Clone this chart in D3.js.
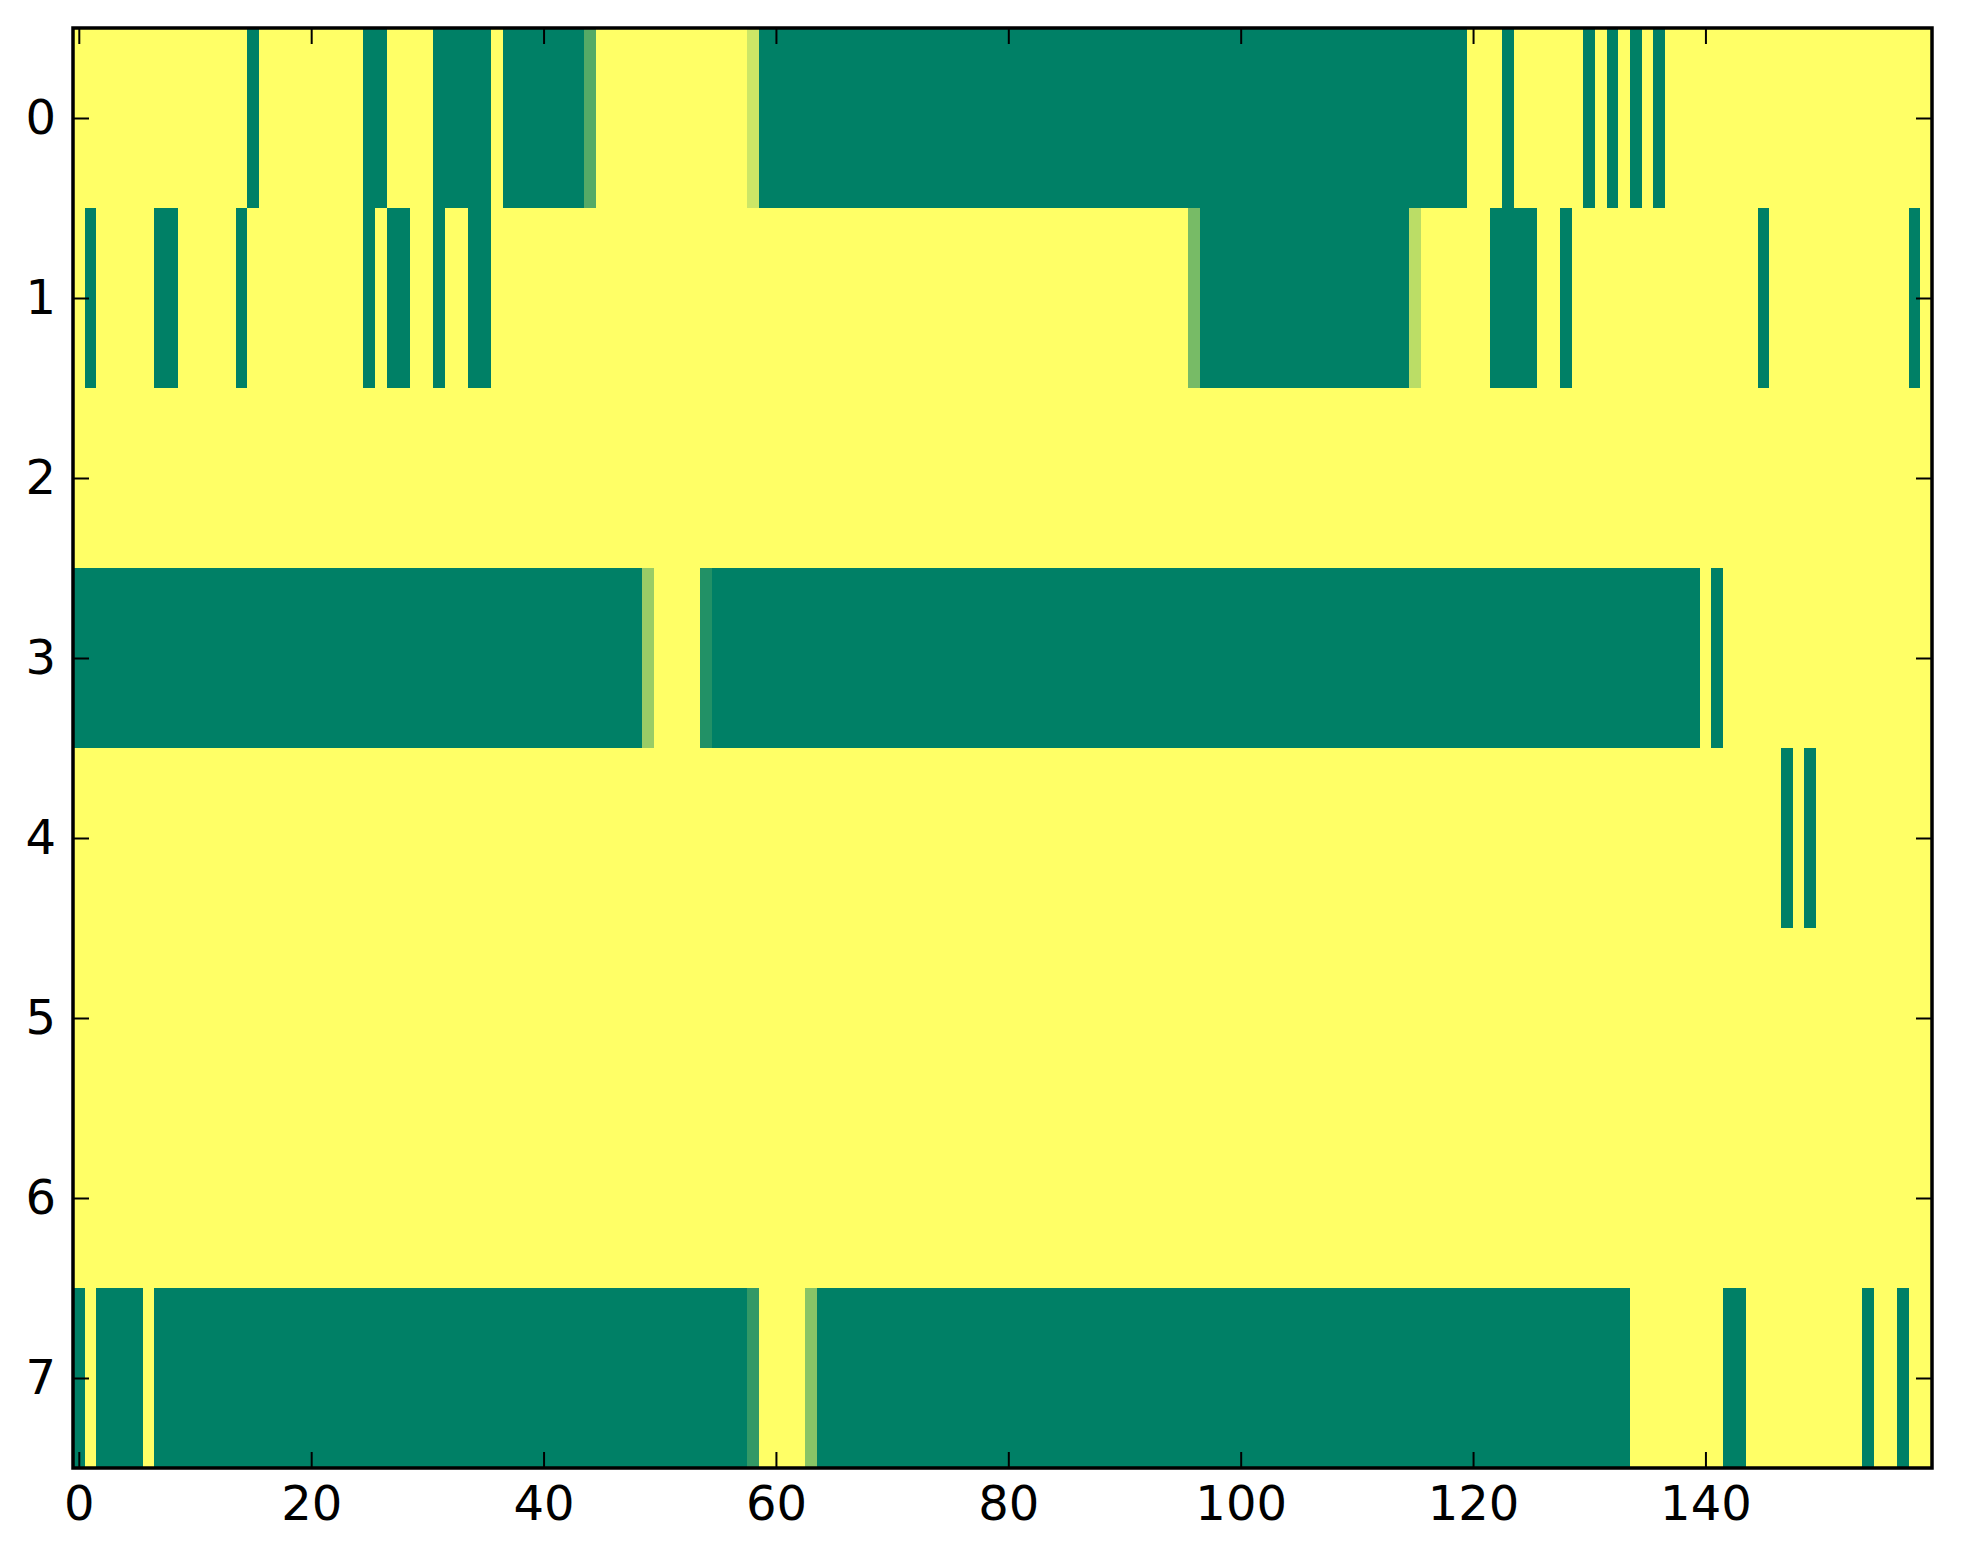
<!DOCTYPE html>
<html>
<head>
<meta charset="utf-8">
<script src="https://cdn.jsdelivr.net/npm/d3@7"></script>
<style>
  body { margin: 0; background: #fff; }
  text { font-family: "DejaVu Sans", sans-serif; }
</style>
</head>
<body>
<svg id="chart" width="1963" height="1564"></svg>
<script>
// one string per row, one hex digit per column: 0 = lowest (green), f = highest (yellow)
// spaces every 10 columns only for reading
var row0 = "ffffffffff fffff0ffff fffff00fff f00000f000 00005fffff ffffffffc0 0000000000 0000000000 0000000000 0000000000 0000000000 0000000000 fff0ffffff 0f0f0f0fff ffffffffff ffffffffff";
var row1 = "f0fffff00f ffff0fffff fffff0f00f f0ff00ffff ffffffffff ffffffffff ffffffffff ffffffffff ffffffffff ffffff7000 0000000000 00000bffff ff0000ff0f ffffffffff fffff0ffff ffffffff0f";
var row2 = "ffffffffff ffffffffff ffffffffff ffffffffff ffffffffff ffffffffff ffffffffff ffffffffff ffffffffff ffffffffff ffffffffff ffffffffff ffffffffff ffffffffff ffffffffff ffffffffff";
var row3 = "0000000000 0000000000 0000000000 0000000000 0000000009 ffff200000 0000000000 0000000000 0000000000 0000000000 0000000000 0000000000 0000000000 0000000000 f0ffffffff ffffffffff";
var row4 = "ffffffffff ffffffffff ffffffffff ffffffffff ffffffffff ffffffffff ffffffffff ffffffffff ffffffffff ffffffffff ffffffffff ffffffffff ffffffffff ffffffffff fffffff0f0 ffffffffff";
var row5 = "ffffffffff ffffffffff ffffffffff ffffffffff ffffffffff ffffffffff ffffffffff ffffffffff ffffffffff ffffffffff ffffffffff ffffffffff ffffffffff ffffffffff ffffffffff ffffffffff";
var row6 = "ffffffffff ffffffffff ffffffffff ffffffffff ffffffffff ffffffffff ffffffffff ffffffffff ffffffffff ffffffffff ffffffffff ffffffffff ffffffffff ffffffffff ffffffffff ffffffffff";
var row7 = "0f0000f000 0000000000 0000000000 0000000000 0000000000 000000003f fff8000000 0000000000 0000000000 0000000000 0000000000 0000000000 0000000000 0000ffffff ff00ffffff ffff0ff0ff";

var xTicks = [0, 20, 40, 60, 80, 100, 120, 140];
var yTicks = [0, 1, 2, 3, 4, 5, 6, 7];

var rowStrings = [row0, row1, row2, row3, row4, row5, row6, row7];

var grid = rowStrings.map(function (s) {
    return s.replace(/ /g, "").split("").map(function (ch) { return parseInt(ch, 16) / 15; });
});
var nCols = grid[0].length;
var nRows = grid.length;
console.log("cols", grid.map(function (r) { return r.length; }));

var cells = [];
grid.forEach(function (r, i) {
    r.forEach(function (v, j) { cells.push({ row: i, col: j, value: v }); });
});

// plot box (window.top is read-only, so no "top" here)
var plotLeft = 73, plotRight = 1932, plotTop = 28, plotBottom = 1468;

var svg = d3.select("#chart");

var x = d3.scaleLinear().domain([-0.5, nCols - 0.5]).range([plotLeft, plotRight]);
var y = d3.scaleLinear().domain([-0.5, nRows - 0.5]).range([plotTop, plotBottom]);

// matplotlib "summer"
var color = d3.scaleLinear().domain([0, 1]).range(["#008066", "#ffff66"]);

svg.append("rect")
    .attr("width", 1963).attr("height", 1564).attr("fill", "#fff");

svg.append("g")
    .selectAll("rect")
    .data(cells)
    .join("rect")
    .attr("x", function (d) { return x(d.col - 0.5); })
    .attr("y", function (d) { return y(d.row - 0.5); })
    .attr("width", function (d) { return x(d.col + 0.5) - x(d.col - 0.5); })
    .attr("height", function (d) { return y(d.row + 0.5) - y(d.row - 0.5); })
    .attr("fill", function (d) { return color(d.value); })
    .attr("shape-rendering", "crispEdges");

var fmt = d3.format("d");

var gBottom = svg.append("g")
    .attr("transform", "translate(0," + plotBottom + ")")
    .call(d3.axisBottom(x).tickValues(xTicks).tickFormat(fmt)
        .tickSizeInner(-16).tickSizeOuter(0).tickPadding(18));
var gTop = svg.append("g")
    .attr("transform", "translate(0," + plotTop + ")")
    .call(d3.axisTop(x).tickValues(xTicks).tickFormat("")
        .tickSizeInner(-16).tickSizeOuter(0));
var gLeft = svg.append("g")
    .attr("transform", "translate(" + plotLeft + ",0)")
    .call(d3.axisLeft(y).tickValues(yTicks).tickFormat(fmt)
        .tickSizeInner(-16).tickSizeOuter(0).tickPadding(17));
var gRight = svg.append("g")
    .attr("transform", "translate(" + plotRight + ",0)")
    .call(d3.axisRight(y).tickValues(yTicks).tickFormat("")
        .tickSizeInner(-16).tickSizeOuter(0));

[gBottom, gTop, gLeft, gRight].forEach(function (g) {
    g.select(".domain").remove();
    g.selectAll(".tick line").attr("stroke", "#000").attr("stroke-width", 2);
    g.selectAll(".tick text")
        .attr("fill", "#000")
        .style("font-size", "48px")
        .style("font-family", "'DejaVu Sans', sans-serif");
});

// frame
svg.append("rect")
    .attr("x", plotLeft).attr("y", plotTop)
    .attr("width", plotRight - plotLeft).attr("height", plotBottom - plotTop)
    .attr("fill", "none")
    .attr("stroke", "#000")
    .attr("stroke-width", 3.5);
</script>
</body>
</html>
